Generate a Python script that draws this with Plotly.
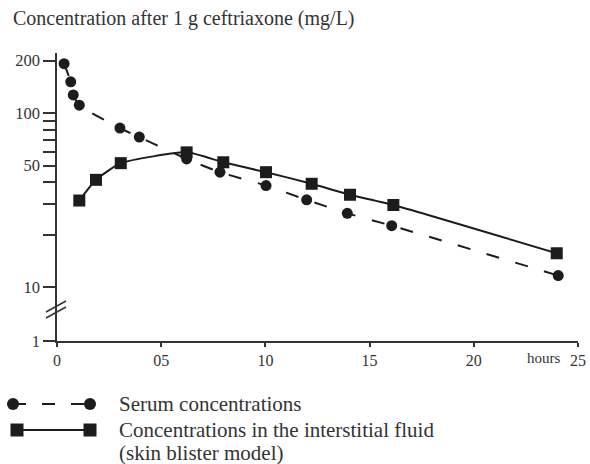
import plotly.graph_objects as go

# serum concentrations (dashed line, circles)
serum_hours = [0.34, 0.66, 0.78, 1.07, 3.02, 3.95, 6.22, 7.82, 10.03, 11.98, 13.93, 16.06, 24.05]
serum_conc = [192, 151, 127, 111, 82, 72.8, 54.6, 45.8, 38.4, 31.8, 26.6, 22.6, 11.7]

# interstitial fluid (solid line, squares)
blister_hours = [1.07, 1.87, 3.06, 6.22, 7.98, 10.03, 12.22, 14.06, 16.14, 23.98]
blister_conc = [31.5, 41.4, 51.6, 59.5, 52.2, 45.8, 39.3, 34.0, 29.7, 15.7]

# y axis: broken between 10 and 1, the "1" tick sits at the bottom of the range
y_floor = 4.93
y_tick_vals = [y_floor, 10, 20, 30, 40, 50, 60, 70, 80, 90, 100, 200]
y_tick_text = ["1", "10", "", "", "", "50", "", "", "", "", "100", "200"]
x_tick_vals = [0, 5, 10, 15, 20, 25]
x_tick_text = ["0", "05", "10", "15", "20", "25"]

title = "Concentration after 1 g ceftriaxone (mg/L)"
legend_labels = ["Serum concentrations",
                 "Concentrations in the interstitial fluid",
                 "(skin blister model)"]

W, H = 590, 464
ink = "#1c1c1c"
txt = "#333333"
serif = "Liberation Serif, Times New Roman, serif"

fig = go.Figure()

fig.add_trace(go.Scatter(
    x=serum_hours, y=serum_conc, mode="lines+markers",
    line=dict(color=ink, width=2, dash="13px,17px", shape="spline", smoothing=0.6),
    marker=dict(symbol="circle", size=11, color=ink),
    showlegend=False, xaxis="x", yaxis="y", cliponaxis=False))
fig.add_trace(go.Scatter(
    x=blister_hours, y=blister_conc, mode="lines+markers",
    line=dict(color=ink, width=2, shape="spline", smoothing=0.5),
    marker=dict(symbol="square", size=12, color=ink),
    showlegend=False, xaxis="x", yaxis="y", cliponaxis=False))

# legend samples drawn on a pixel-space overlay axis
fig.add_trace(go.Scatter(
    x=[13, 90], y=[404, 404], mode="lines+markers",
    line=dict(color=ink, width=2, dash="13px,16px"),
    marker=dict(symbol="circle", size=12, color=ink),
    showlegend=False, xaxis="x2", yaxis="y2", hoverinfo="skip", cliponaxis=False))
fig.add_trace(go.Scatter(
    x=[17, 90], y=[430, 430], mode="lines+markers",
    line=dict(color=ink, width=2),
    marker=dict(symbol="square", size=13, color=ink),
    showlegend=False, xaxis="x2", yaxis="y2", hoverinfo="skip", cliponaxis=False))

annotations = [
    dict(x=11, y=18, text=title, xanchor="left", yanchor="middle",
         font=dict(size=20, color=txt, family=serif)),
    dict(x=562, y=358, text="hours", xanchor="right", yanchor="middle",
         font=dict(size=15, color=txt, family=serif)),
]
for label, yy in zip(legend_labels, [404, 430, 453]):
    annotations.append(dict(x=117, y=yy, text=label, xanchor="left", yanchor="middle",
                            font=dict(size=21, color=txt, family=serif)))
for a in annotations:
    a.update(xref="x2", yref="y2", showarrow=False)

# axis break marks
shapes = []
for dy in [0, 6]:
    shapes.append(dict(type="line", xref="x2", yref="y2",
                       x0=46, y0=312 + dy, x1=66, y1=301 + dy,
                       line=dict(color=txt, width=1.5)))

fig.update_layout(
    width=W, height=H,
    margin=dict(l=0, r=0, t=0, b=0),
    paper_bgcolor="white", plot_bgcolor="rgba(0,0,0,0)",
    font=dict(family=serif, color=txt),
    annotations=annotations, shapes=shapes,
    xaxis=dict(domain=[57 / W, 578 / W], range=[0, 25], anchor="y",
               showline=True, linecolor=txt, linewidth=1.5,
               ticks="outside", ticklen=4, tickwidth=1.5, tickcolor=txt,
               tickvals=x_tick_vals, ticktext=x_tick_text,
               tickfont=dict(size=16, color=txt, family=serif),
               ticklabeloverflow="allow",
               showgrid=False, zeroline=False, automargin=False),
    yaxis=dict(domain=[(H - 341) / H, (H - 53) / H], type="log", anchor="x",
               range=[0.6928, 2.3444],
               showline=True, linecolor=txt, linewidth=1.5,
               ticks="outside", ticklen=12, tickwidth=1.5, tickcolor=txt,
               tickvals=y_tick_vals, ticktext=y_tick_text,
               tickfont=dict(size=16.5, color=txt, family=serif),
               showgrid=False, zeroline=False, automargin=False),
    xaxis2=dict(domain=[0, 1], range=[0, W], anchor="y2", visible=False, fixedrange=True),
    yaxis2=dict(domain=[0, 1], range=[H, 0], anchor="x2", visible=False, fixedrange=True),
)

# page body margin off so the figure sits at the window's top-left corner
fig.write_html("out.html", config={"displayModeBar": False},
               post_script="document.body.style.margin='0';document.body.style.overflow='hidden';")
